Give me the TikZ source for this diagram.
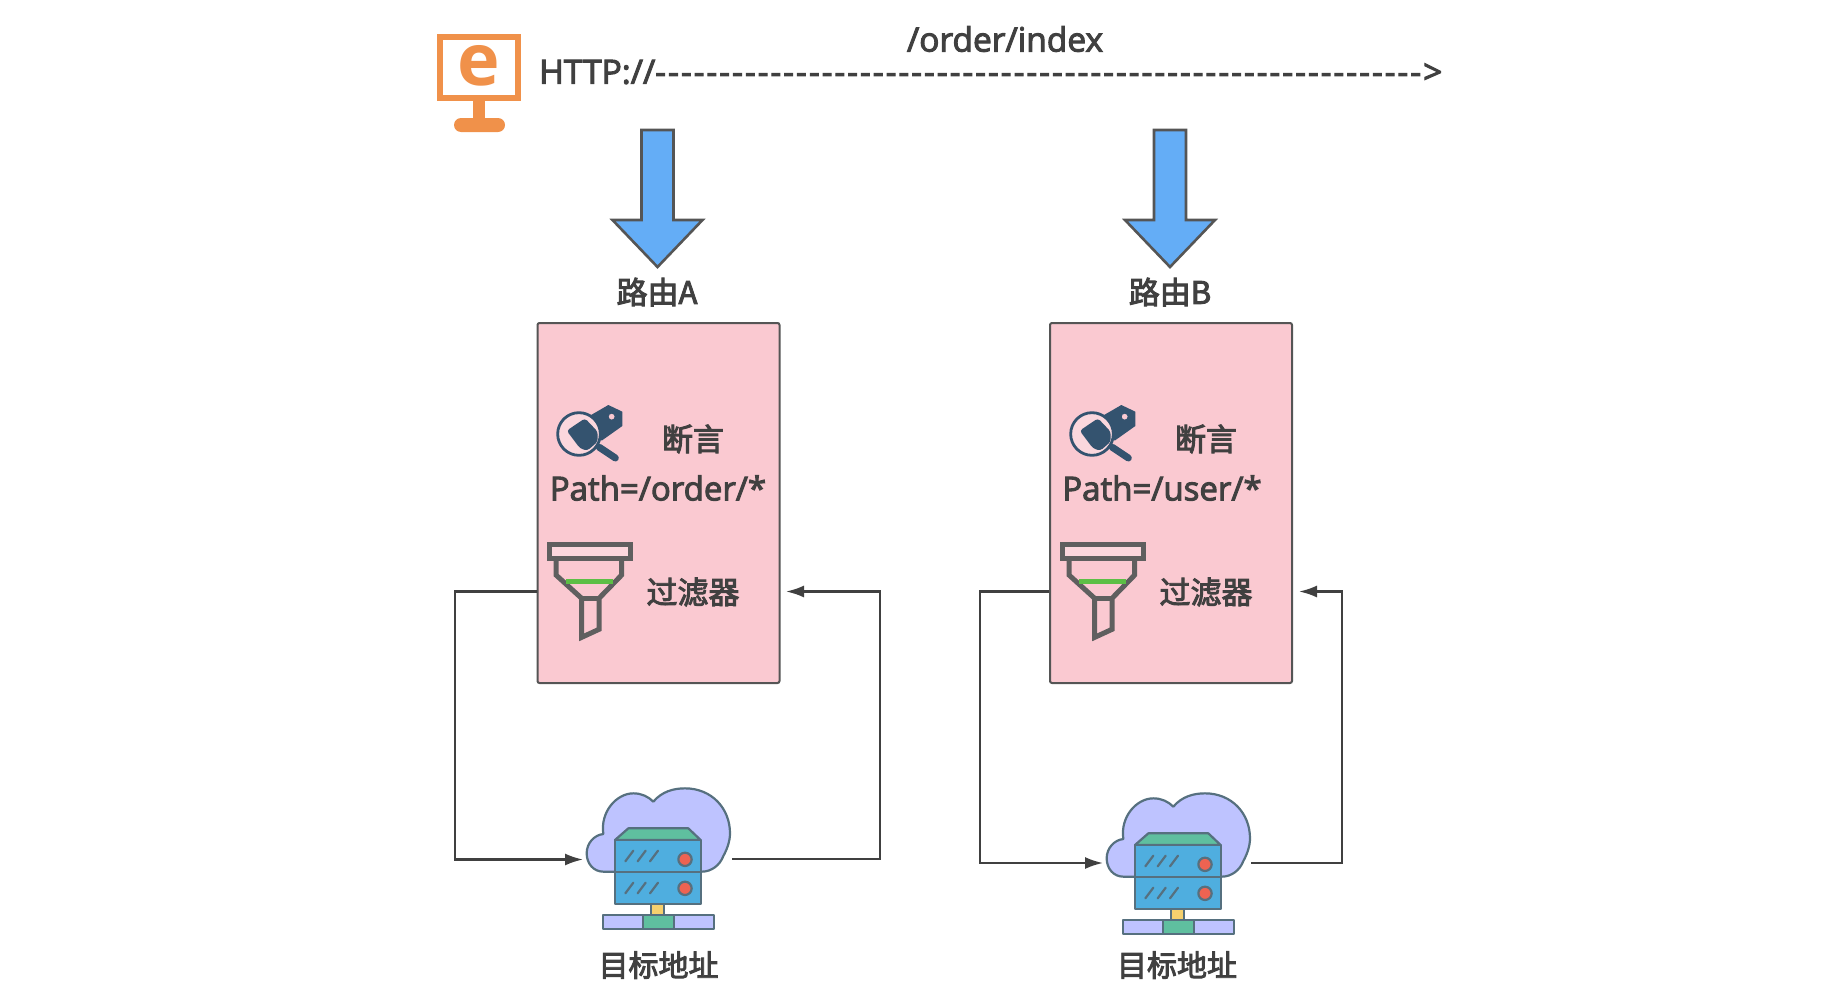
\documentclass[tikz,border=0pt]{standalone}
\usepackage{fontspec}
\setmainfont{Noto Sans CJK SC}[RawFeature={embolden=3}]
\newfontfamily\latinf{Open Sans}[RawFeature={embolden=3}]
\newfontfamily\latine{Open Sans}
\definecolor{txt}{HTML}{404040}
\definecolor{pinkb}{HTML}{FAC9D1}
\definecolor{edgeg}{HTML}{555555}
\definecolor{blueA}{HTML}{64ADF6}
\definecolor{orangeM}{HTML}{F0914A}
\definecolor{lav}{HTML}{BEC3FF}
\definecolor{srvline}{HTML}{56707F}
\definecolor{srvblue}{HTML}{4FAEDF}
\definecolor{srvgreen}{HTML}{5FBF9F}
\definecolor{srvred}{HTML}{EE6352}
\definecolor{srvyel}{HTML}{F5D06E}
\definecolor{tagblue}{HTML}{34536F}
\definecolor{fung}{HTML}{5F5F5F}
\definecolor{fungreen}{HTML}{5CBF45}
\usetikzlibrary{arrows.meta}
\tikzset{
  lbl/.style={text=txt,inner sep=0pt,font=\fontsize{31}{34}\selectfont},
  lat/.style={text=txt,inner sep=0pt,font=\latinf\fontsize{33}{36}\selectfont},
  rulebox/.style={draw=edgeg,fill=pinkb,line width=2pt,rounded corners=2pt,minimum width=242pt,minimum height=360pt,inner sep=0pt},
  downarrow/.style={draw=edgeg,fill=blueA,line width=2.6pt,line join=miter},
  conn/.style={draw=txt,line width=2.1pt,-{Latex[length=18pt,width=12pt]}},
  srvedge/.style={draw=srvline,line width=2.2pt,line join=round},
  pics/server/.style={code={
    \begin{scope}[scale=1/3]
      \draw[srvedge,fill=lav] (250,95) .. controls (275,65) and (310,55) .. (345,55)
        .. controls (425,55) and (480,115) .. (480,190)
        .. controls (480,215) and (470,240) .. (460,258)
        .. controls (450,285) and (425,305) .. (395,305)
        -- (100,305) .. controls (70,305) and (50,280) .. (50,250)
        .. controls (50,220) and (72,195) .. (100,192)
        .. controls (90,125) and (140,70) .. (190,70)
        .. controls (215,70) and (235,80) .. (250,95) -- cycle;
      \draw[srvedge,fill=srvyel] (243,403) rectangle (283,436);
      \draw[srvedge,fill=lav] (100,435) rectangle (432,478);
      \draw[srvedge,fill=srvgreen] (218,435) rectangle (312,478);
      \draw[srvedge,fill=srvgreen] (135,210) -- (175,175) -- (355,175) -- (392,210) -- cycle;
      \draw[srvedge,fill=srvblue] (135,210) rectangle (392,305);
      \draw[srvedge,fill=srvblue] (135,305) rectangle (392,403);
      \draw[srvedge,fill=srvred] (345,268) circle (20);
      \draw[srvedge,fill=srvred] (345,355) circle (20);
      \foreach \yy in {258,354}{
        \foreach \xx in {178,215,252}{
          \draw[srvedge,line cap=round] (\xx-12,\yy+16) -- (\xx+12,\yy-16);
        }
      }
    \end{scope}
  }},
  pics/magnifier/.style={code={
    \begin{scope}[scale=1/3]
      \fill[tagblue,even odd rule] (178,78) -- (235,45) -- (277,65) -- (277,108) -- (215,152) -- (195,120) -- cycle
        (245,80) circle (9);
      \draw[tagblue,line width=2.8pt,fill=pinkb!75!white] (147,132) circle (64);
      \fill[tagblue,rounded corners=3pt] (110,122) -- (165,85) -- (203,125) -- (203,155) -- (172,182) -- (150,175) -- cycle;
      \draw[tagblue,line width=7pt,line cap=round] (208,172) -- (256,204);
    \end{scope}
  }},
  pics/funnel/.style={code={
    \begin{scope}[scale=1/3]
      \draw[fung,fill=pinkb!75!white,line width=5pt,line join=miter] (57,462) rectangle (300,505);
      \draw[fung,line width=5pt,line join=miter] (78,505) -- (78,555) -- (155,625) -- (155,742) -- (207,718) -- (207,625) -- (275,555) -- (275,505);
      \draw[fung,line width=5pt] (155,625) -- (207,625);
      \draw[fungreen,line width=5pt] (108,573) -- (248,573);
    \end{scope}
  }}
}
\begin{document}
\begin{tikzpicture}[x=1pt,y=-1pt]
\useasboundingbox (0,0) rectangle (1844,1004);
% monitor
\draw[orangeM,line width=6pt] (440,37) rectangle (518,98);
\fill[orangeM] (473,100) rectangle (485,120);
\fill[orangeM,rounded corners=7pt] (454,118) rectangle (505,132);
\node[text=orangeM,inner sep=0pt,font=\latine\bfseries\fontsize{72}{74}\selectfont] (eicon) at (479,66) {e};
% top text
\node[lat,anchor=west,font=\latinf\fontsize{33.5}{36}\selectfont] (http) at (539,72) {HTTP://{\addfontfeature{LetterSpace=6}------------------------------------------------------------>}};
\node[lat,font=\latinf\fontsize{33.5}{36}\selectfont] (path) at (1005,39) {/order/index};
% big arrows
\foreach \cx/\nm in {657.5/arrA,1170/arrB}{
  \draw[downarrow] (\cx-16,130) -- (\cx+16,130) -- (\cx+16,220) -- (\cx+45,220) -- (\cx,267) -- (\cx-45,220) -- (\cx-16,220) -- cycle;
  \coordinate (\nm) at (\cx,267);
}
\node[lbl] (rA) at (657,292) {路由A};
\node[lbl] (rB) at (1170,292) {路由B};
% boxes
\node[rulebox] (boxA) at (658.5,503) {};
\node[rulebox] (boxB) at (1171,503) {};
% contents
\pic at (530,390) {magnifier};
\pic at (530,390) {funnel};
\pic at (1043,390) {magnifier};
\pic at (1043,390) {funnel};
\node[lbl] (dyA) at (693,439) {断言};
\node[lbl] (dyB) at (1206,439) {断言};
\node[lat] (pA) at (658,488) {Path=/order/*};
\node[lat] (pB) at (1162,488) {Path=/user/*};
\node[lbl] (glA) at (693,592) {过滤器};
\node[lbl] (glB) at (1206,592) {过滤器};
% servers
\pic at (570,770) {server};
\pic at (1090,775) {server};
\node[lbl,font=\fontsize{30}{34}\selectfont] (mA) at (658.5,965) {目标地址};
\node[lbl,font=\fontsize{30}{34}\selectfont] (mB) at (1177,965) {目标地址};
% connector ends
\coordinate (aOut) at (boxA.west |- 0,591.5);
\coordinate (aBack) at (786,591.5);
\coordinate (sAin) at (583,859.5);
\coordinate (sAout) at (732,859);
\coordinate (bOut) at (boxB.west |- 0,591.5);
\coordinate (bBack) at (1299,591.5);
\coordinate (sBin) at (1103,863);
\coordinate (sBout) at (1251,863);
\draw[conn] (aOut) -- (455,591.5) -- (455,859.5) -- (sAin);
\draw[conn] (sAout) -- (880,859) -- (880,591.5) -- (aBack);
\draw[conn] (bOut) -- (980,591.5) -- (980,863) -- (sBin);
\draw[conn] (sBout) -- (1342,863) -- (1342,591.5) -- (bBack);
\end{tikzpicture}
\end{document}
